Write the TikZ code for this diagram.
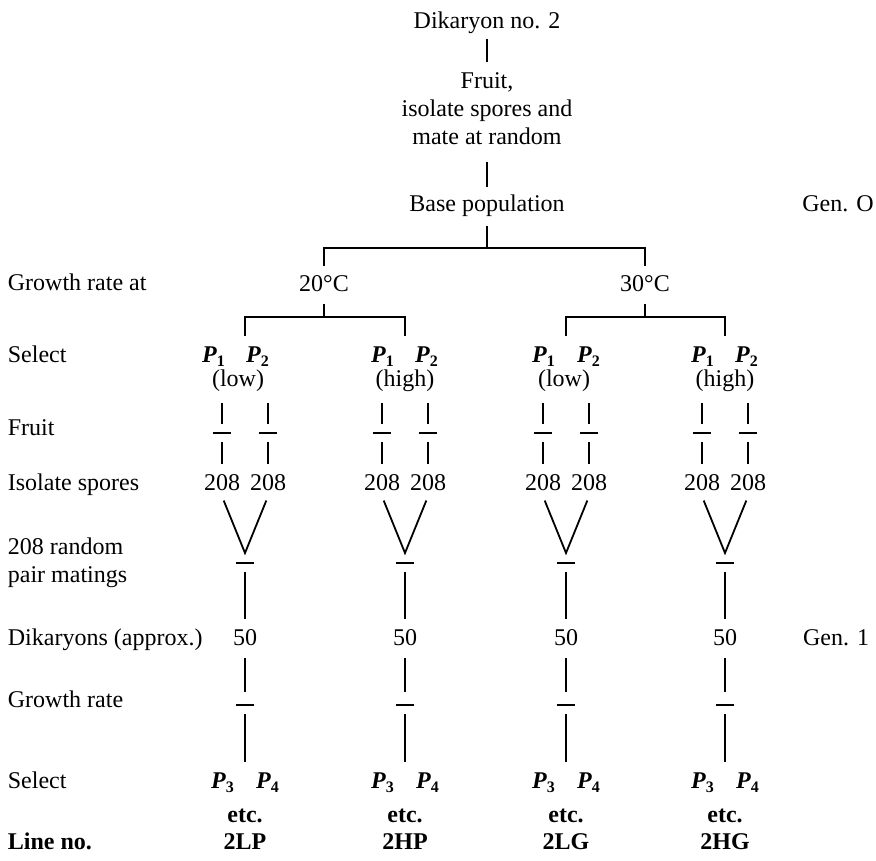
\documentclass[tikz,border=0pt]{standalone}
\usepackage{fontspec}
\setmainfont{Liberation Serif}
\usetikzlibrary{calc}
\newcommand\psub[1]{\textbf{\textit{P}}\textsubscript{\textbf{#1}}}
\begin{document}
\begin{tikzpicture}[x=0.5pt,y=-0.5pt,line width=0.9pt,
  lbl/.style={inner sep=0,text height=8pt,text depth=2.5pt,font=\fontsize{12}{14}\selectfont},
  lblb/.style={lbl,font=\fontsize{12}{14}\selectfont\bfseries},
  side/.style={lbl,anchor=west},
  tk/.style={inner sep=0,minimum width=8.5pt,minimum height=8.5pt}]
\useasboundingbox (0,0) rectangle (876,860);

% top chain
\node[lbl] (dik) at (487,23) {Dikaryon no. 2};
\node[inner sep=0,anchor=north,align=center,font=\fontsize{12}{14}\selectfont] (fruit) at (487,72) {Fruit,\\isolate spores and\\mate at random};
\node[lbl] (base) at (487,206) {Base population};
\node[lbl] (gen0) at (838,206) {Gen. O};
\coordinate (j0) at (487,248);
\node[lbl] (c20) at (324,286) {20°C};
\node[lbl] (c30) at (645,286) {30°C};
\coordinate (j20) at (324,317);
\coordinate (j30) at (645,317);

% left labels
\node[side] (l1) at (7,285) {Growth rate at};
\node[side] (l2) at (7,357) {Select};
\node[side] (l3) at (7,430) {Fruit};
\node[side] (l4) at (7,485) {Isolate spores};
\node[anchor=west,inner sep=0,align=left,font=\fontsize{12}{14}\selectfont] (l5) at (7,563) {208 random\\pair matings};
\node[side] (l6) at (7,640) {Dikaryons (approx.)};
\node[side] (l7) at (7,702) {Growth rate};
\node[side] (l8) at (7,783) {Select};
\node[lblb,anchor=west] (l9) at (7,844) {Line no.};
\node[lbl] (gen1) at (836,640) {Gen. 1};

% four lines
\foreach \g/\n/\pa/\pb/\pl/\word/\lin in {245/A/214/258/238/low/2LP,405/B/383/427/405/high/2HP,566/C/544/589/564/low/2LG,725/D/703/747/725/high/2HG}{
  \node[lbl] (p1\n) at (\pa,357) {\psub{1}};
  \node[lbl] (p2\n) at (\pb,357) {\psub{2}};
  \node[lbl] (w\n) at (\pl,381) {(\word)};
  \node[tk] (fa\n) at (\g-23,433) {};
  \node[tk] (fb\n) at (\g+23,433) {};
  \node[lbl] (sa\n) at (\g-23,485) {208};
  \node[lbl] (sb\n) at (\g+23,485) {208};
  \coordinate (v\n) at (\g,553);
  \node[tk] (m\n) at (\g,563) {};
  \node[lbl] (d\n) at (\g,640) {50};
  \node[tk] (r\n) at (\g,705) {};
  \node[lbl] (p3\n) at (\g-22,783) {\psub{3}};
  \node[lbl] (p4\n) at (\g+23,783) {\psub{4}};
  \node[lblb] (e\n) at (\g,817) {etc.};
  \node[lblb] (n\n) at (\g,844) {\lin};
  \draw[shorten <=5.25pt] (fa\n |- w\n.south) -- (fa\n.north);
  \draw[shorten <=5.25pt] (fb\n |- w\n.south) -- (fb\n.north);
  \draw (fa\n.west) -- (fa\n.east);
  \draw (fb\n.west) -- (fb\n.east);
  \draw[shorten >=4.75pt] (fa\n.south) -- (sa\n.north);
  \draw[shorten >=4.75pt] (fb\n.south) -- (sb\n.north);
  \draw[shorten <=2.25pt,shorten >=2.25pt] (sa\n.south) -- (v\n) -- (sb\n.south);
  \draw (m\n.west) -- (m\n.east);
  \draw[shorten >=4.75pt] (m\n.south) -- (d\n.north);
  \draw[shorten <=3.25pt,shorten >=1.75pt] (d\n.south) -- (r\n.north);
  \draw (r\n.west) -- (r\n.east);
  \draw (r\n.south) -- ($(r\n |- p3\n.north)+(0,-9.5)$);
}

% connectors of the top part
\draw[shorten <=2.25pt,shorten >=5pt] (dik.south) -- (fruit.north);
\draw[shorten <=8pt,shorten >=3.75pt] (fruit.south) -- (base.north);
\draw[shorten <=4.25pt] (base.south) -- (j0);
\draw ($(c20.north)+(0,-9)$) |- (j0) -| ($(c30.north)+(0,-9)$);
\draw[shorten <=3.25pt] (c20.south) -- (j20);
\draw[shorten <=3.25pt] (c30.south) -- (j30);
\draw ($(vA |- p1A.north)+(0,-9.5)$) |- (j20) -| ($(vB |- p1B.north)+(0,-9.5)$);
\draw ($(vC |- p1C.north)+(0,-9.5)$) |- (j30) -| ($(vD |- p1D.north)+(0,-9.5)$);
\end{tikzpicture}
\end{document}
